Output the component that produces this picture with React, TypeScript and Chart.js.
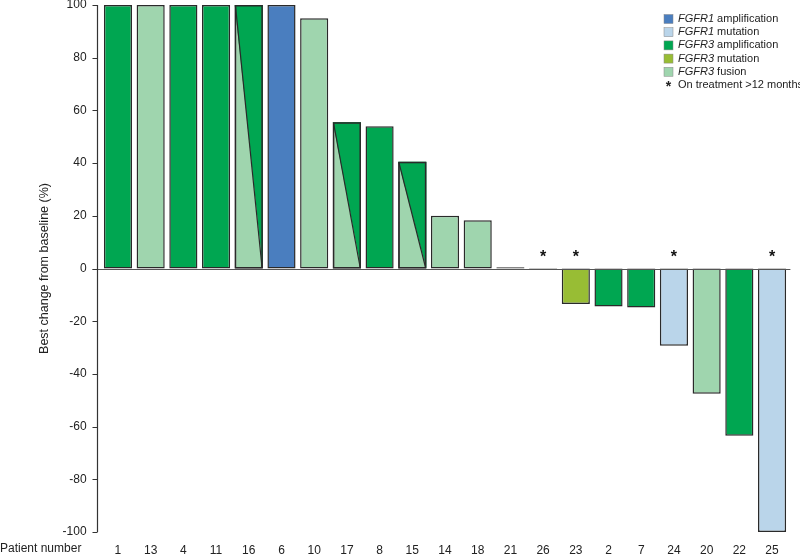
import React, { useEffect, useRef } from 'react';
import { Chart, registerables } from 'chart.js';
Chart.register(...registerables);

const patients = ['1', '13', '4', '11', '16', '6', '10', '17', '8', '15', '14', '18', '21', '26', '23', '2', '7', '24', '20', '22', '25'];
const bestChange = [100, 100, 100, 100, 100, 100, 95, 55.5, 54, 40.5, 20, 18.3, 0.5, -0.3, -13.5, -14.4, -14.8, -29.3, -47.5, -63.5, -100];
const alteration = [
  'FGFR3 amplification', 'FGFR3 fusion', 'FGFR3 amplification', 'FGFR3 amplification', 'FGFR3 fusion',
  'FGFR1 amplification', 'FGFR3 fusion', 'FGFR3 fusion', 'FGFR3 amplification', 'FGFR3 fusion',
  'FGFR3 fusion', 'FGFR3 fusion', 'FGFR3 amplification', 'FGFR3 amplification', 'FGFR3 mutation',
  'FGFR3 amplification', 'FGFR3 amplification', 'FGFR1 mutation', 'FGFR3 fusion', 'FGFR3 amplification', 'FGFR1 mutation',
];
const secondAlteration = [
  null, null, null, null, 'FGFR3 amplification', null, null, 'FGFR3 amplification', null, 'FGFR3 amplification',
  null, null, null, null, null, null, null, null, null, null, null,
];
const onTreatmentOver12Months = ['26', '23', '24', '25'];
const legendGenes = ['FGFR1', 'FGFR1', 'FGFR3', 'FGFR3', 'FGFR3'];
const legendKinds = ['amplification', 'mutation', 'amplification', 'mutation', 'fusion'];
const yTicks = [100, 80, 60, 40, 20, 0, -20, -40, -60, -80, -100];

const colorOf: Record<string, string> = {
  'FGFR1 amplification': '#4a7ebf',
  'FGFR1 mutation': '#bad5ea',
  'FGFR3 amplification': '#00a651',
  'FGFR3 mutation': '#98bd34',
  'FGFR3 fusion': '#9fd5ae',
};

const FONT = '"Liberation Sans", Arial, sans-serif';
const EDGE = '#2a2a2a';

export default function App() {
  const ref = useRef<HTMLCanvasElement>(null);
  useEffect(() => {
    document.body.style.margin = '0';
    const canvas = ref.current!;
    const overlay = {
      id: 'overlay',
      afterDatasetsDraw(chart: any) {
        const ctx = chart.ctx;
        const { left, right, top, bottom } = chart.chartArea;
        const ys = chart.scales.y;
        const meta = chart.getDatasetMeta(0);
        ctx.save();
        // split bars
        meta.data.forEach((el: any, i: number) => {
          const sec = secondAlteration[i];
          if (!sec) return;
          const p = el.getProps(['x', 'y', 'base', 'width'], true);
          const l = p.x - p.width / 2, r = p.x + p.width / 2;
          const t = Math.min(p.y, p.base), b = Math.max(p.y, p.base);
          ctx.fillStyle = colorOf[sec];
          ctx.beginPath();
          ctx.moveTo(l, t);
          ctx.lineTo(r, t);
          ctx.lineTo(r, b);
          ctx.closePath();
          ctx.fill();
          ctx.strokeStyle = EDGE;
          ctx.lineWidth = 1.5;
          ctx.strokeRect(l + 0.75, t + 0.75, p.width - 1.5, b - t - 1.5);
          ctx.lineWidth = 1.2;
          ctx.beginPath();
          ctx.moveTo(l + 0.75, t + 0.75);
          ctx.lineTo(r - 0.75, b - 0.75);
          ctx.stroke();
        });
        // zero line
        const y0 = Math.round(ys.getPixelForValue(0)) + 0.5;
        ctx.strokeStyle = '#555';
        ctx.lineWidth = 1.2;
        ctx.beginPath();
        ctx.moveTo(left - 9, y0);
        ctx.lineTo(right + 2, y0);
        ctx.stroke();
        // y axis line and ticks
        const ax = Math.round(left - 5) + 0.5;
        ctx.strokeStyle = '#333';
        ctx.lineWidth = 1.2;
        ctx.beginPath();
        ctx.moveTo(ax, ys.getPixelForValue(100));
        ctx.lineTo(ax, ys.getPixelForValue(-100));
        yTicks.forEach((v) => {
          const yy = Math.round(ys.getPixelForValue(v)) + 0.5;
          ctx.moveTo(ax - 5, yy);
          ctx.lineTo(ax, yy);
        });
        ctx.stroke();
        // stars
        ctx.fillStyle = '#111';
        ctx.font = `bold 16px ${FONT}`;
        ctx.textAlign = 'center';
        ctx.textBaseline = 'middle';
        meta.data.forEach((el: any, i: number) => {
          if (onTreatmentOver12Months.includes(patients[i])) {
            ctx.fillText('*', el.x, y0 - 12);
          }
        });
        // y title
        ctx.save();
        ctx.translate(45, (top + bottom) / 2);
        ctx.rotate(-Math.PI / 2);
        ctx.font = `12.5px ${FONT}`;
        ctx.fillStyle = '#222';
        ctx.textAlign = 'center';
        ctx.textBaseline = 'middle';
        ctx.fillText('Best change from baseline (%)', 0, 0);
        ctx.restore();
        // x title
        ctx.font = `12px ${FONT}`;
        ctx.fillStyle = '#222';
        ctx.textAlign = 'left';
        ctx.textBaseline = 'middle';
        ctx.fillText('Patient number', 0, 549);
        // legend
        const lx = 664, ly0 = 19, dy = 13.2;
        legendGenes.forEach((g, i) => {
          const yy = ly0 + i * dy;
          ctx.fillStyle = colorOf[`${g} ${legendKinds[i]}`];
          ctx.fillRect(lx, yy - 4.5, 9, 9);
          ctx.strokeStyle = '#888';
          ctx.lineWidth = 0.5;
          ctx.strokeRect(lx, yy - 4.5, 9, 9);
          ctx.fillStyle = '#222';
          ctx.font = `italic 11px ${FONT}`;
          ctx.fillText(g, 678, yy);
          const w = ctx.measureText(g + ' ').width;
          ctx.font = `11px ${FONT}`;
          ctx.fillText(legendKinds[i], 678 + w, yy);
        });
        const sy = ly0 + 5 * dy;
        ctx.font = `bold 14px ${FONT}`;
        ctx.textAlign = 'center';
        ctx.fillText('*', lx + 4.5, sy + 2);
        ctx.textAlign = 'left';
        ctx.font = `11px ${FONT}`;
        ctx.fillText('On treatment >12 months', 678, sy);
        ctx.restore();
      },
    };
    const chart = new Chart(canvas, {
      type: 'bar',
      data: {
        labels: patients,
        datasets: [
          {
            data: bestChange,
            backgroundColor: alteration.map((a) => colorOf[a]),
            borderColor: EDGE,
            borderWidth: 1.5,
            borderSkipped: false,
            barPercentage: 0.86,
            categoryPercentage: 1,
          },
        ],
      },
      options: {
        responsive: false,
        animation: false,
        layout: { padding: { left: 0, right: 11.6, top: 5, bottom: 0 } },
        plugins: { legend: { display: false }, tooltip: { enabled: false } },
        scales: {
          x: {
            grid: { display: false, drawTicks: false },
            border: { display: false },
            ticks: { color: '#222', font: { family: FONT, size: 12 }, padding: 11, maxRotation: 0, autoSkip: false },
            afterFit: (s: any) => { s.height = 28; s.paddingLeft = 0; s.paddingRight = 0; },
          },
          y: {
            min: -100,
            max: 100,
            grid: { display: false, drawTicks: false },
            border: { display: false },
            ticks: { stepSize: 20, color: '#222', font: { family: FONT, size: 12 }, padding: 15 },
            afterFit: (s: any) => { s.width = 101.6; s.paddingTop = 0; s.paddingBottom = 0; },
          },
        },
      },
      plugins: [overlay],
    });
    return () => chart.destroy();
  }, []);
  return (
    <div style={{ position: 'absolute', left: 0, top: 0, width: 800, height: 560 }}>
      <canvas ref={ref} width={800} height={560} style={{ display: 'block' }} />
    </div>
  );
}
